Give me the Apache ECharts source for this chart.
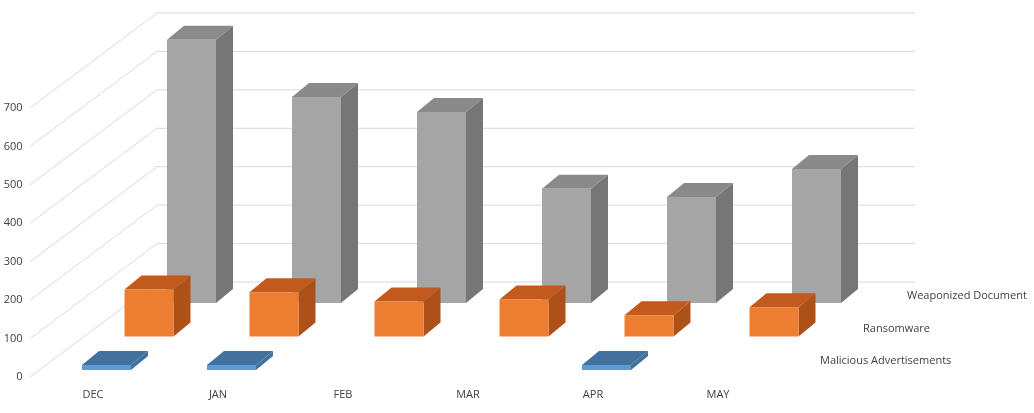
<!DOCTYPE html>
<html>
<head>
<meta charset="utf-8">
<script src="https://cdn.jsdelivr.net/npm/echarts@6/dist/echarts.min.js"></script>
<style>
	html, body { margin: 0; background: #fff; }
	#chart { width: 1034px; height: 413px; }
</style>
</head>
<body>
<div id="chart"></div>
<script>
const months = ['DEC', 'JAN', 'FEB', 'MAR', 'APR', 'MAY'];
const seriesNames = ['Malicious Advertisements', 'Ransomware', 'Weaponized Document'];
const malicious = [13, 13, 0, 0, 13, 0];
const ransomware = [122, 115, 91, 96, 55, 76];
const weaponized = [685, 536, 497, 297, 276, 349];
const wallTicks = [0, 100, 200, 300, 400, 500, 600, 700];

// front, top, side colours per row
const palette = [
	['#5b9bd5', '#41719c', '#41719c'],
	['#ed7d31', '#c15a1c', '#ae5119'],
	['#a5a5a5', '#8a8a8a', '#767676']
];

const ROW_DX = 42.5, ROW_DY = -33.5, BAR_W = 49, DEPTH_X = 17, DEPTH_Y = -14;

function boxRenderer(row) {
	return function (params, api) {
		const value = api.value(1);
		const base = api.coord([api.value(0), 0]);
		const top = api.coord([api.value(0), value]);
		const x0 = base[0] - 11 + row * ROW_DX;
		const yb = base[1] - 7 + row * ROW_DY;
		const h = base[1] - top[1];
		if (value <= 0) return null;
		const yt = yb - h;
		const x1 = x0 + BAR_W;
		const [front, topC, side] = palette[row];
		return {
			type: 'group',
			children: [
				{ type: 'polygon', shape: { points: [[x1, yb], [x1 + DEPTH_X, yb + DEPTH_Y], [x1 + DEPTH_X, yt + DEPTH_Y], [x1, yt]] }, style: { fill: side } },
				{ type: 'polygon', shape: { points: [[x0, yt], [x1, yt], [x1 + DEPTH_X, yt + DEPTH_Y], [x0 + DEPTH_X, yt + DEPTH_Y]] }, style: { fill: topC } },
				{ type: 'rect', shape: { x: x0, y: yt, width: BAR_W, height: h }, style: { fill: front } }
			]
		};
	};
}

function wallRenderer(params, api) {
	const p = api.coord([0, api.value(0)]);
	const x = 30;
	return {
		type: 'polyline',
		shape: { points: [[x, p[1]], [x + 127, p[1] - 95], [915, p[1] - 95]] },
		style: { stroke: '#d9d9d9', lineWidth: 1, fill: 'none' }
	};
}

const chart = echarts.init(document.getElementById('chart'));
chart.setOption({
	animation: false,
	grid: { left: 30.5, right: 1034 - 780.5, top: 108, bottom: 413 - 377 },
	xAxis: {
		type: 'category', data: months,
		axisLine: { show: false }, axisTick: { show: false },
		axisLabel: { color: '#404040', fontFamily: 'Open Sans', fontSize: 11, margin: 12 }
	},
	yAxis: {
		type: 'value', min: 0, max: 700, interval: 100,
		splitLine: { show: false },
		axisLabel: { color: '#404040', fontFamily: 'Open Sans', fontSize: 11, margin: 8 }
	},
	graphic: seriesNames.map((name, i) => ({
		type: 'text',
		left: [820, 863, 907][i], top: [355, 323, 290][i],
		style: { text: name, fill: '#404040', font: '11px "Open Sans"' }
	})),
	series: [
		{ type: 'custom', renderItem: wallRenderer, data: wallTicks.map(v => [v]), encode: { y: 0 }, silent: true },
		{ type: 'custom', name: seriesNames[2], renderItem: boxRenderer(2), data: weaponized.map((v, i) => [i, v]) },
		{ type: 'custom', name: seriesNames[1], renderItem: boxRenderer(1), data: ransomware.map((v, i) => [i, v]) },
		{ type: 'custom', name: seriesNames[0], renderItem: boxRenderer(0), data: malicious.map((v, i) => [i, v]) }
	]
});
</script>
</body>
</html>
